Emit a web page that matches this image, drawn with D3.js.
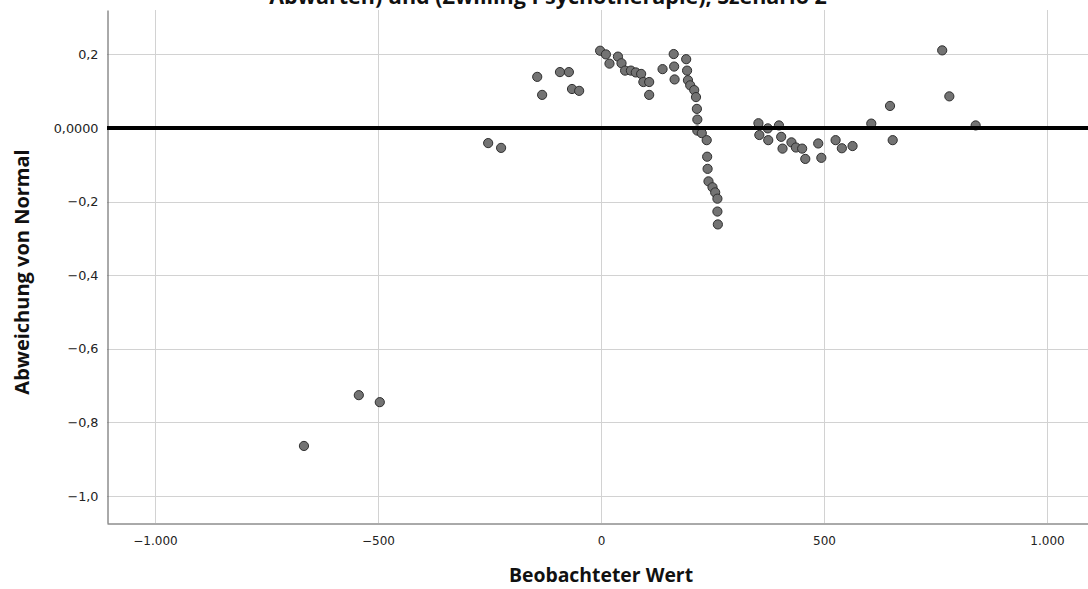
<!DOCTYPE html>
<html>
<head>
<meta charset="utf-8">
<script src="https://cdn.jsdelivr.net/npm/d3@7"></script>
<style>
  body { margin: 0; background: #fff; }
  svg { display: block; }
</style>
</head>
<body>
<svg width="1088" height="589"></svg>
<script>
var observed = [-666, -543, -496, -253, -224, -143, -132, -92, -72, -65, -49,
  -2, 11, 19, 38, 46, 54, 67, 78, 90, 95, 108, 108, 138, 163, 164, 165,
  191, 193, 195, 200, 209, 213, 215, 216, 216, 226, 237, 238, 239, 241, 250, 256, 261, 261, 262,
  353, 355, 374, 375, 399, 404, 407, 427, 437, 451, 458, 487, 494, 526, 540, 564,
  606, 648, 654, 765, 781, 840];
var deviation = [-0.864, -0.726, -0.745, -0.041, -0.054, 0.139, 0.090, 0.152, 0.152, 0.106, 0.101,
  0.210, 0.200, 0.175, 0.194, 0.176, 0.156, 0.156, 0.151, 0.147, 0.125, 0.125, 0.090, 0.160, 0.201, 0.167, 0.132,
  0.187, 0.156, 0.130, 0.116, 0.103, 0.084, 0.052, 0.023, -0.007, -0.014, -0.033, -0.078, -0.111, -0.145, -0.161, -0.175, -0.192, -0.227, -0.262,
  0.013, -0.019, -0.001, -0.033, 0.007, -0.024, -0.056, -0.039, -0.053, -0.056, -0.084, -0.042, -0.081, -0.033, -0.055, -0.049,
  0.012, 0.060, -0.033, 0.211, 0.086, 0.007];

var xTicks = [-1000, -500, 0, 500, 1000];
var xTickLabels = ["\u22121.000", "\u2212500", "0", "500", "1.000"];
var yTicks = [0.2, 0, -0.2, -0.4, -0.6, -0.8, -1.0];
var yTickLabels = ["0,2", "0,0000", "\u22120,2", "\u22120,4", "\u22120,6", "\u22120,8", "\u22121,0"];

var title = "Abwarten) und (Zwilling Psychotherapie), Szenario 2";
var xTitle = "Beobachteter Wert";
var yTitle = "Abweichung von Normal";

function main(){
var svg = d3.select("svg"),
    left = 107, right = 1088, top = 10, bottom = 523;

var x = d3.scaleLinear().domain([-1107.6, 1091.9]).range([left, right]);
var y = d3.scaleLinear().domain([0.3207, -1.0734]).range([top, bottom]);

var tickFont = "'DejaVu Sans', sans-serif";
var titleFont = "'Open Sans', sans-serif";

// grid
var grid = svg.append("g").attr("stroke", "#d2d2d2").attr("stroke-width", 1);
grid.selectAll("line.v").data(xTicks).enter().append("line")
    .attr("x1", function(d) { return Math.round(x(d)) + 0.5; })
    .attr("x2", function(d) { return Math.round(x(d)) + 0.5; })
    .attr("y1", top).attr("y2", bottom);
grid.selectAll("line.h").data(yTicks).enter().append("line")
    .attr("y1", function(d) { return Math.round(y(d)) + 0.5; })
    .attr("y2", function(d) { return Math.round(y(d)) + 0.5; })
    .attr("x1", left).attr("x2", right);

// axes
var xAxis = d3.axisBottom(x).tickValues(xTicks).tickSize(0).tickPadding(13)
    .tickFormat(function(d, i) { return xTickLabels[i]; });
var yAxis = d3.axisLeft(y).tickValues(yTicks).tickSize(0).tickPadding(9)
    .tickFormat(function(d, i) { return yTickLabels[i]; });

var gx = svg.append("g").attr("transform", "translate(0," + (bottom + 0.5) + ")").call(xAxis);
var gy = svg.append("g").attr("transform", "translate(" + (left + 0.5) + ",0)").call(yAxis);
gx.selectAll("text").attr("font-size", 12);
gy.selectAll("text").attr("font-size", 12.8);
[gx, gy].forEach(function(g) {
  g.select(".domain").attr("stroke", "#555");
  g.selectAll("text").attr("font-family", tickFont).attr("fill", "#222");
});

// points
svg.append("g").selectAll("circle")
    .data(observed.map(function(d, i) { return [d, deviation[i]]; }))
    .enter().append("circle")
    .attr("cx", function(d) { return x(d[0]); })
    .attr("cy", function(d) { return y(d[1]); })
    .attr("r", 4.6)
    .attr("fill", "#737373")
    .attr("stroke", "#2f2f2f")
    .attr("stroke-width", 1);

// zero reference line
svg.append("line")
    .attr("x1", left).attr("x2", right)
    .attr("y1", y(0)).attr("y2", y(0))
    .attr("stroke", "#000").attr("stroke-width", 4);

// titles
svg.append("text")
    .attr("x", 548).attr("y", 4)
    .attr("text-anchor", "middle")
    .attr("font-family", titleFont).attr("font-weight", "bold").attr("font-size", 21.5)
    .attr("fill", "#111")
    .text(title);

svg.append("text")
    .attr("x", 601).attr("y", 582)
    .attr("text-anchor", "middle")
    .attr("font-family", titleFont).attr("font-weight", "bold").attr("font-size", 19.4)
    .attr("fill", "#111")
    .text(xTitle);

svg.append("text")
    .attr("transform", "translate(29,272) rotate(-90)")
    .attr("text-anchor", "middle")
    .attr("font-family", titleFont).attr("font-weight", "bold").attr("font-size", 20)
    .attr("fill", "#111")
    .text(yTitle);
}
main()
</script>
</body>
</html>
